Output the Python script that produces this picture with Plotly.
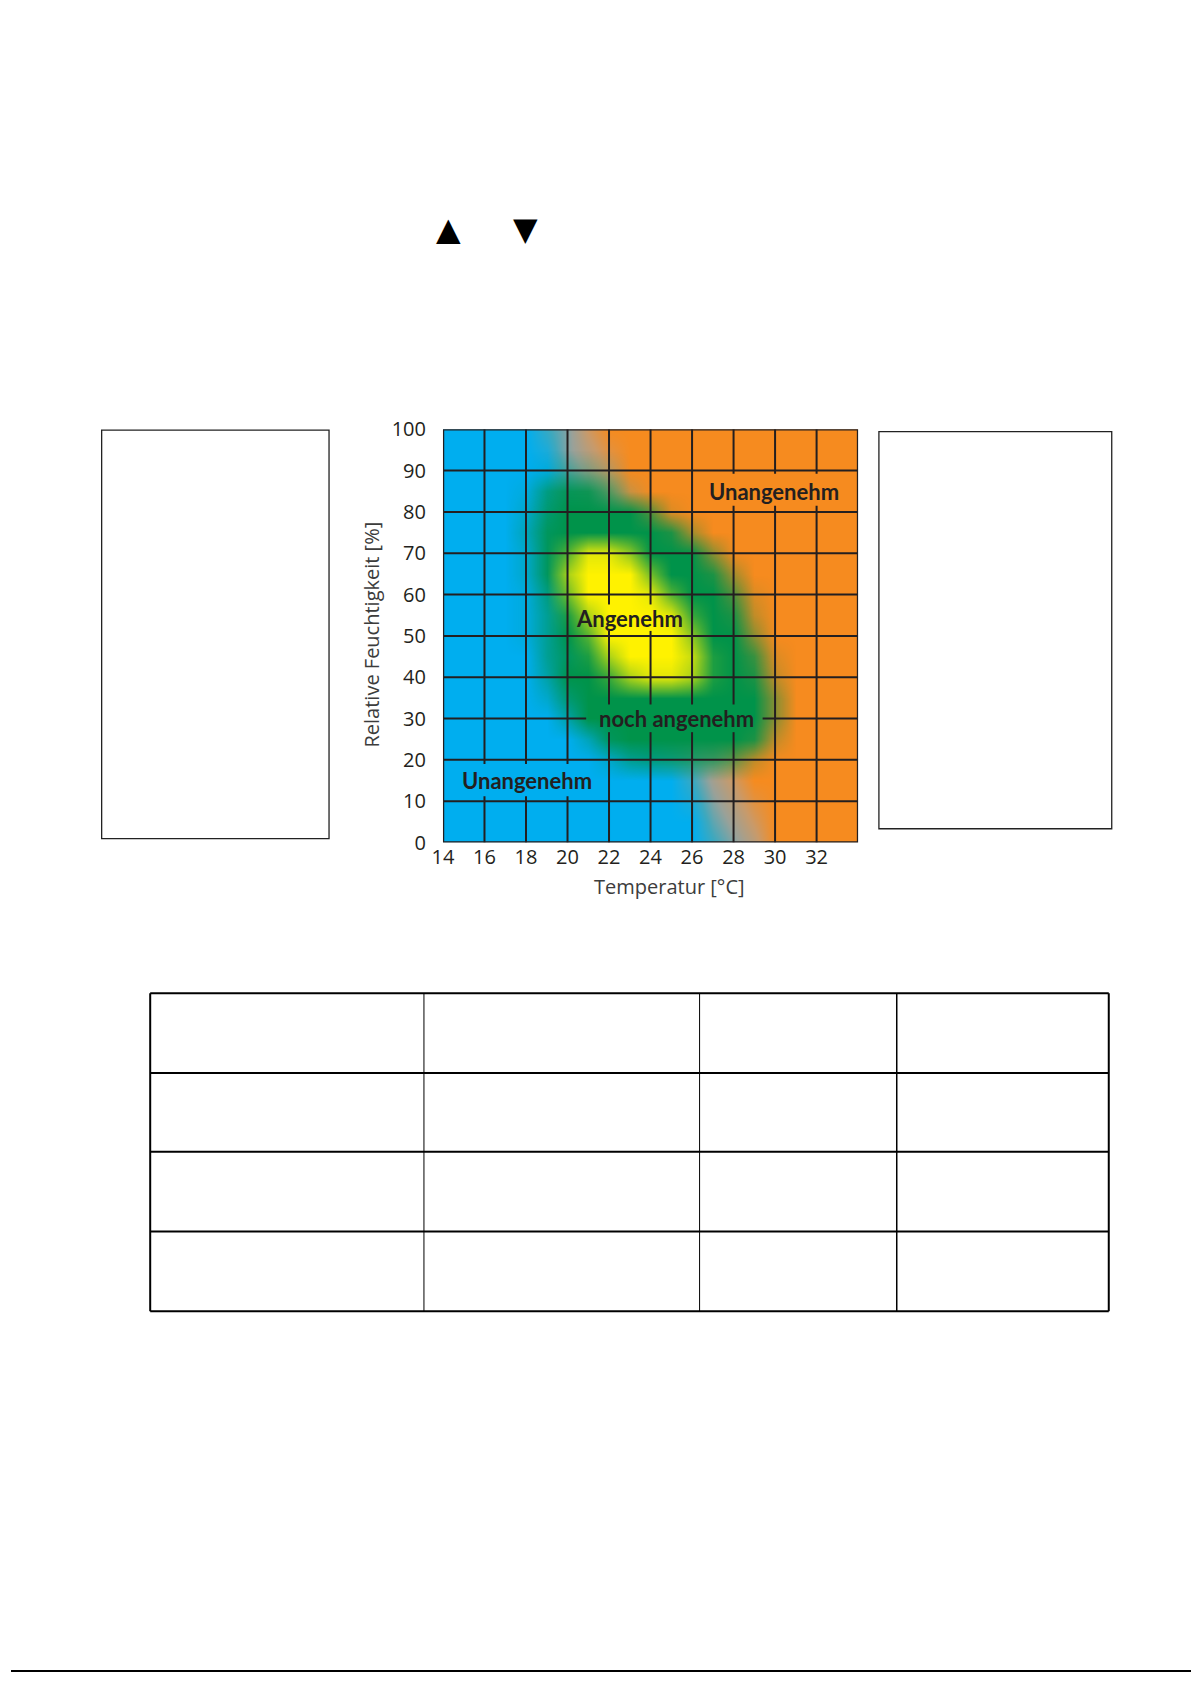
import plotly.graph_objects as go

W, H = 1191, 1685

# Temperatur [°C] (Spalten) und relative Feuchtigkeit [%] (Zeilen) des Farbrasters
temps = list(range(14, 35))
hums = list(range(0, 101, 5))

# Grundfarbe: 0 = blau (kalt/trocken), 9 = orange (warm/schwuel); Zeile je 5 %, unten beginnend
base_rows = [
    "000000000000024699999",  # 0
    "000000000000035799999",  # 5
    "000000000000146899999",  # 10
    "000000000000257999999",  # 15
    "000000000001358999999",  # 20
    "000000000002469999999",  # 25
    "000000000013579999999",  # 30
    "000000000024689999999",  # 35
    "000000000025799999999",  # 40
    "000000000136899999999",  # 45
    "000000000247999999999",  # 50
    "000000001357999999999",  # 55
    "000000002468999999999",  # 60
    "000000003579999999999",  # 65
    "000000013689999999999",  # 70
    "000000024799999999999",  # 75
    "000000135899999999999",  # 80
    "000000246899999999999",  # 85
    "000000357999999999999",  # 90
    "000001468999999999999",  # 95
    "000002479999999999999",  # 100
]

# Deckkraft "noch angenehm" (gruen)
green_rows = [
    "000000000000000000000",  # 0
    "000000000000000000000",  # 5
    "000000000000000000000",  # 10
    "000000000000000000000",  # 15
    "000000002566665200000",  # 20
    "000000038999999820000",  # 25
    "000000499999999940000",  # 30
    "000002799999999940000",  # 35
    "000004999999999820000",  # 40
    "000005899999999710000",  # 45
    "000015999999999400000",  # 50
    "000015999999998200000",  # 55
    "000016999999996100000",  # 60
    "000028999999983000000",  # 65
    "000028999999940000000",  # 70
    "000038999998300000000",  # 75
    "000027999961000000000",  # 80
    "000016885100000000000",  # 85
    "000001221000000000000",  # 90
    "000000000000000000000",  # 95
    "000000000000000000000",  # 100
]

# Deckkraft "Angenehm" (gelb)
yellow_rows = [
    "000000000000000000000",  # 0
    "000000000000000000000",  # 5
    "000000000000000000000",  # 10
    "000000000000000000000",  # 15
    "000000000000000000000",  # 20
    "000000000000000000000",  # 25
    "000000000000000000000",  # 30
    "000000000000000000000",  # 35
    "000000002688610000000",  # 40
    "000000016999710000000",  # 45
    "000000039999500000000",  # 50
    "000000169998200000000",  # 55
    "000000499983000000000",  # 60
    "000000699940000000000",  # 65
    "000000388500000000000",  # 70
    "000000000000000000000",  # 75
    "000000000000000000000",  # 80
    "000000000000000000000",  # 85
    "000000000000000000000",  # 90
    "000000000000000000000",  # 95
    "000000000000000000000",  # 100
]

x_ticks = list(range(14, 33, 2))
y_ticks = list(range(0, 101, 10))

# Beschriftung im Diagramm: Text, x, y, Aussparung im Gitter (x0, x1, y0, y1)
labels = [
    ("Unangenehm", 29.94, 85.0, (26.7, 33.2, 81.5, 89.2)),
    ("Angenehm", 23.0, 54.3, (20.5, 25.5, 51.2, 57.6)),
    ("noch angenehm", 25.26, 30.0, (20.9, 29.4, 26.7, 33.4)),
    ("Unangenehm", 18.03, 15.0, (14.6, 21.5, 11.2, 19.0)),
]


def to_z(rows):
    return [[int(c) / 9 for c in r] for r in rows]


def px(x):
    return x / W


def py(y):
    return 1 - y / H


def cut(lo, hi, gaps):
    segs = [(lo, hi)]
    for g0, g1 in sorted(gaps):
        new = []
        for a, b in segs:
            if g1 <= a or g0 >= b:
                new.append((a, b))
            else:
                if g0 > a:
                    new.append((a, g0))
                if g1 < b:
                    new.append((g1, b))
        segs = new
    return segs


fig = go.Figure()

fig.add_trace(go.Heatmap(x=temps, y=hums, z=to_z(base_rows), zmin=0, zmax=1, zsmooth='best',
                         colorscale=[[0, '#00AEEF'], [0.25, '#3FA8BE'], [0.5, '#9AA199'],
                                     [0.75, '#C99A6A'], [1, '#F68B1F']],
                         showscale=False, hoverinfo='skip'))
fig.add_trace(go.Heatmap(x=temps, y=hums, z=to_z(green_rows), zmin=0, zmax=1, zsmooth='best',
                         colorscale=[[0, 'rgba(0,147,74,0)'], [1, 'rgba(0,147,74,1)']],
                         showscale=False, hoverinfo='skip'))
fig.add_trace(go.Heatmap(x=temps, y=hums, z=to_z(yellow_rows), zmin=0, zmax=1, zsmooth='best',
                         colorscale=[[0, 'rgba(255,242,0,0)'], [1, 'rgba(255,242,0,1)']],
                         showscale=False, hoverinfo='skip'))

# Gitter mit Aussparungen hinter den Beschriftungen
gx, gy = [], []
for v in x_ticks[1:]:
    gaps = [(b[2], b[3]) for _, _, _, b in labels if b[0] < v < b[1]]
    for a, b in cut(0, 100, gaps):
        gx += [v, v, None]
        gy += [a, b, None]
for v in y_ticks[1:-1]:
    gaps = [(b[0], b[1]) for _, _, _, b in labels if b[2] < v < b[3]]
    for a, b in cut(14, 34, gaps):
        gx += [a, b, None]
        gy += [v, v, None]
fig.add_trace(go.Scatter(x=gx, y=gy, mode='lines', line=dict(color='#231F20', width=2),
                         hoverinfo='skip', showlegend=False))

fig.add_shape(type='rect', xref='x', yref='y', x0=14, x1=34, y0=0, y1=100,
              line=dict(color='#231F20', width=2.5))

for text, x, y, _ in labels:
    fig.add_annotation(x=x, y=y, xref='x', yref='y', text='<b>' + text + '</b>', showarrow=False,
                       font=dict(family='Lato', size=22, color='#231F20'))

fig.add_annotation(x=px(665), y=py(887), xref='paper', yref='paper', text='Temperatur [°C]',
                   showarrow=False, xanchor='center', yanchor='middle',
                   font=dict(family='Open Sans', size=20, color='#3C3C3C'))
fig.add_annotation(x=px(364), y=py(631), xref='paper', yref='paper',
                   text='Relative Feuchtigkeit [%]', textangle=-90,
                   showarrow=False, xanchor='center', yanchor='middle',
                   font=dict(family='Open Sans', size=20, color='#3C3C3C'))

# Pfeilsymbole oben
fig.add_annotation(x=px(442), y=py(219), xref='paper', yref='paper', text='▲', showarrow=False,
                   xanchor='center', yanchor='middle',
                   font=dict(family='DejaVu Sans', size=32, color='black'))
fig.add_annotation(x=px(519), y=py(219), xref='paper', yref='paper', text='▼', showarrow=False,
                   xanchor='center', yanchor='middle',
                   font=dict(family='DejaVu Sans', size=32, color='black'))

# leere Textkaesten links und rechts
fig.add_shape(type='rect', xref='paper', yref='paper', x0=px(91.5), x1=px(321), y0=py(838), y1=py(423),
              line=dict(color='#222222', width=1.3))
fig.add_shape(type='rect', xref='paper', yref='paper', x0=px(876), x1=px(1111), y0=py(828), y1=py(424.5),
              line=dict(color='#222222', width=1.3))

# leere Tabelle
col_x = [140.5, 416.8, 695, 894, 1108]
row_y = [995.3, 1076.3, 1156.3, 1237.3, 1318.3]
for yy in row_y:
    fig.add_shape(type='line', xref='paper', yref='paper', x0=px(col_x[0]), x1=px(col_x[-1]),
                  y0=py(yy), y1=py(yy), line=dict(color='black', width=2))
for i, xx in enumerate(col_x):
    wdt = 2 if i in (0, len(col_x) - 1) else (1.5 if i == 3 else 1)
    fig.add_shape(type='line', xref='paper', yref='paper', x0=px(xx), x1=px(xx),
                  y0=py(row_y[0]), y1=py(row_y[-1]), line=dict(color='black', width=wdt))

# Linie am unteren Seitenrand
fig.add_shape(type='line', xref='paper', yref='paper', x0=0, x1=1, y0=py(1684), y1=py(1684),
              line=dict(color='black', width=2))

fig.update_xaxes(domain=[px(436), px(855)], range=[14, 34], tickvals=x_ticks, showgrid=False,
                 zeroline=False, ticks='', ticklabelstandoff=0,
                 tickfont=dict(family='Open Sans', size=20, color='#231F20'))
fig.update_yaxes(domain=[py(842), py(422)], range=[0, 100], tickvals=y_ticks, showgrid=False,
                 zeroline=False, ticks='', ticklabelstandoff=16,
                 tickfont=dict(family='Open Sans', size=20, color='#231F20'))
fig.update_layout(width=W, height=H, margin=dict(l=0, r=0, t=0, b=0),
                  paper_bgcolor='white', plot_bgcolor='white', showlegend=False)

fig.write_html("out.html", config={'displayModeBar': False},
               post_script="document.body.style.margin='0px';")
